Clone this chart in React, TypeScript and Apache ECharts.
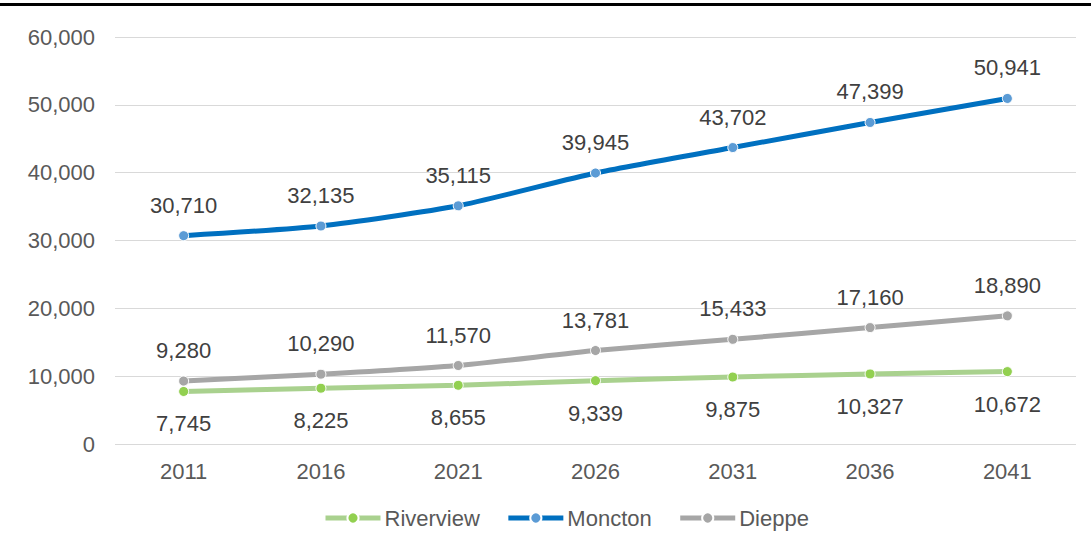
import React, { useEffect, useRef } from "react";
import * as echarts from "echarts";

const years = ["2011", "2016", "2021", "2026", "2031", "2036", "2041"];
const riverview = [7745, 8225, 8655, 9339, 9875, 10327, 10672];
const moncton = [30710, 32135, 35115, 39945, 43702, 47399, 50941];
const dieppe = [9280, 10290, 11570, 13781, 15433, 17160, 18890];

const fmt = (v: number) => v.toLocaleString("en-US");

export default function App() {
  const ref = useRef<HTMLDivElement>(null);
  useEffect(() => {
    const chart = echarts.init(ref.current!, null, { renderer: "svg" });
    const font = "Liberation Sans, Arial, sans-serif";
    const labelStyle = (pos: string, d: number) => ({
      show: true,
      position: pos,
      distance: d,
      color: "#404040",
      fontSize: 22,
      fontFamily: font,
      formatter: (p: any) => fmt(p.value),
    });
    chart.setOption({
      animation: false,
      backgroundColor: "#fff",
      textStyle: { fontFamily: font },
      graphic: [
        {
          type: "rect",
          shape: { x: 0, y: 3, width: 1091, height: 3 },
          style: { fill: "#000" },
        },
      ],
      grid: { left: 115, right: 15, top: 37, bottom: 90 },
      xAxis: {
        type: "category",
        data: years,
        boundaryGap: true,
        axisLine: { show: false },
        axisTick: { show: false },
        axisLabel: { color: "#595959", fontSize: 22, margin: 16, fontFamily: font },
      },
      yAxis: {
        type: "value",
        min: 0,
        max: 60000,
        interval: 10000,
        axisLabel: {
          color: "#595959",
          fontSize: 22,
          margin: 20,
          fontFamily: font,
          formatter: (v: number) => fmt(v),
        },
        splitLine: { lineStyle: { color: "#d9d9d9", width: 1 } },
        axisLine: { show: false },
        axisTick: { show: false },
      },
      legend: {
        bottom: 0,
        left: 318,
        itemWidth: 55,
        itemHeight: 14,
        itemGap: 26,
        lineStyle: { width: 5 },
        textStyle: { color: "#595959", fontSize: 22, fontFamily: font, padding: [0, 0, 0, -1] },
        data: ["Riverview", "Moncton", "Dieppe"],
      },
      series: [
        {
          name: "Riverview",
          type: "line",
          data: riverview,
          smooth: 0.2,
          symbol: "circle",
          symbolSize: 10,
          lineStyle: { color: "#A9D18E", width: 5 },
          itemStyle: { color: "#92D050", borderColor: "#fff", borderWidth: 1 },
          label: labelStyle("bottom", 16),
          z: 2,
        },
        {
          name: "Moncton",
          type: "line",
          data: moncton,
          smooth: 0.2,
          symbol: "circle",
          symbolSize: 10,
          lineStyle: { color: "#0070C0", width: 5 },
          itemStyle: { color: "#5B9BD5", borderColor: "#fff", borderWidth: 1 },
          label: labelStyle("top", 14),
          z: 3,
        },
        {
          name: "Dieppe",
          type: "line",
          data: dieppe,
          smooth: 0.2,
          symbol: "circle",
          symbolSize: 10,
          lineStyle: { color: "#A6A6A6", width: 5 },
          itemStyle: { color: "#A6A6A6", borderColor: "#fff", borderWidth: 1 },
          label: labelStyle("top", 14),
          z: 2,
        },
      ],
    });
    return () => chart.dispose();
  }, []);
  return (
    <div
      ref={ref}
      style={{ position: "fixed", left: 0, top: 0, width: 1091, height: 534 }}
    />
  );
}
